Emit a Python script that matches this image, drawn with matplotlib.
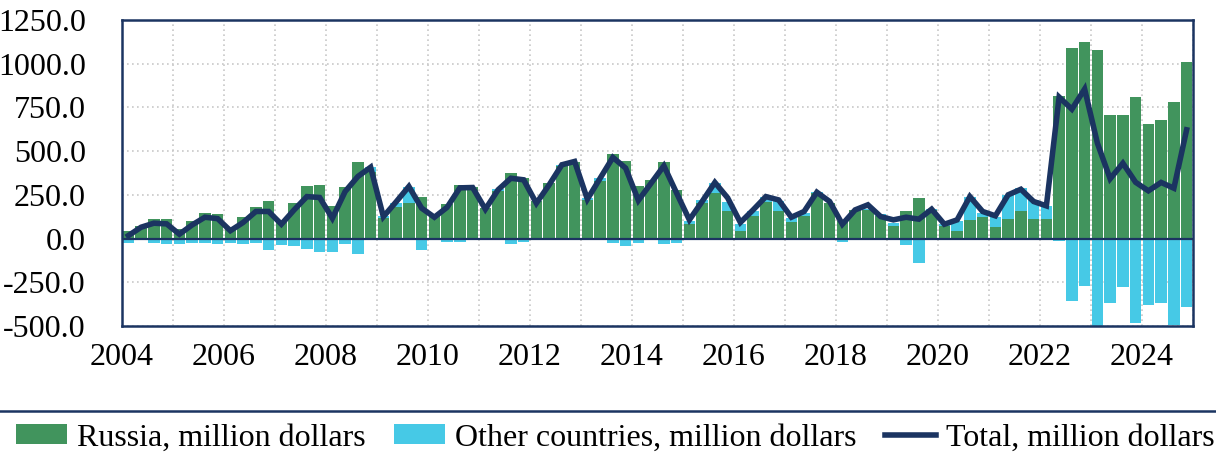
import numpy as np
import matplotlib.pyplot as plt
from matplotlib.lines import Line2D

plt.rcParams['font.family'] = ['Liberation Serif', 'DejaVu Serif']

# Kvartalsdata 2004K1 - 2024K4 (mill. dollar)
start_year = 2004
end_year = 2024

russia = [44, 71, 111, 111, 57, 103, 147, 139, 53, 124, 179, 214,
          100, 206, 298, 307, 187, 296, 437, 378, 120, 183, 206, 238,
          135, 198, 307, 296, 174, 273, 374, 347, 216, 317, 416, 437,
          221, 332, 483, 443, 298, 336, 437, 279, 84, 202, 263, 157,
          46, 130, 210, 160, 97, 130, 263, 206, 103, 164, 165, 130,
          73, 158, 233, 164, 73, 46, 107, 122, 65, 114, 155, 113,
          113, 817, 1088, 1122, 1078, 708, 704, 807, 654, 679, 780, 1007]

other = [-27, -6, -27, -32, -32, -23, -27, -32, -27, -32, -27, -65,
         -34, -42, -59, -78, -74, -31, -90, 30, 10, 20, 88, -63,
         -10, -21, -21, -8, -5, 9, -31, -17, -5, -5, 4, -5,
         10, 13, -23, -42, -23, -5, -31, -27, 19, 19, 54, 55,
         38, 28, 30, 54, 23, 15, 6, -11, -17, -3, 5, 11,
         15, -36, -137, 4, 11, 57, 133, 23, 57, 136, 133, 108,
         74, -13, -357, -271, -504, -366, -275, -485, -380, -366, -494, -393]

total = [17, 65, 88, 84, 25, 78, 122, 114, 45, 92, 155, 155,
         82, 164, 240, 235, 116, 269, 355, 408, 125, 210, 298, 174,
         122, 179, 290, 292, 168, 279, 345, 336, 202, 307, 422, 441,
         225, 345, 464, 403, 218, 317, 416, 260, 107, 212, 321, 233,
         92, 164, 240, 221, 122, 155, 265, 212, 82, 164, 193, 126,
         107, 122, 111, 168, 82, 107, 240, 155, 130, 250, 282, 212,
         187, 809, 740, 855, 546, 342, 431, 322, 273, 321, 288, 622]

y_ticks = [-500, -250, 0, 250, 500, 750, 1000, 1250]

# Farger
GREEN = '#41945D'
CYAN = '#46C9E6'
NAVY = '#1B3461'
FS = 23

russia = np.array(russia, dtype=float)
other = np.array(other, dtype=float)
n = len(russia)
x = np.arange(n) + 0.5

fig = plt.figure(figsize=(12.16, 4.58), dpi=100)
ax = fig.add_axes([122 / 1216, 1 - 326 / 458, (1193 - 122) / 1216, (326 - 20) / 458])

# Stablede søyler: positive "andre" oppå Russland, negative under null
other_bottom = np.where(other > 0, russia, 0)
b1 = ax.bar(x, russia, width=0.92, color=GREEN, zorder=2, label='Russia, million dollars')
b2 = ax.bar(x, other, width=0.92, bottom=other_bottom, color=CYAN, zorder=2,
            label='Other countries, million dollars')
ax.axhline(0, color=NAVY, linewidth=1.6, zorder=3)
l1, = ax.plot(x, total, color=NAVY, linewidth=4.0, zorder=4, solid_joinstyle='miter',
              label='Total, million dollars')

ax.set_xlim(0, n)
ax.set_ylim(-500, 1250)
ax.set_yticks(y_ticks)
ax.set_yticklabels([f'{v:.1f}' for v in y_ticks], fontsize=FS)

years = list(range(start_year, end_year + 2))
ax.set_xticks([4 * i for i in range(len(years))])
ax.set_xticklabels([str(y) if (y - start_year) % 2 == 0 else '' for y in years], fontsize=FS)
ax.tick_params(axis='both', length=0)
ax.tick_params(axis='x', pad=12)
ax.tick_params(axis='y', pad=26)

ax.grid(True, color='#C8C8C8', linestyle=(0, (1, 2)), linewidth=1.2, zorder=0)
ax.set_axisbelow(True)
for s in ax.spines.values():
    s.set_color(NAVY)
    s.set_linewidth(1.8)

# Skillelinje over tegnforklaringen
fig.add_artist(Line2D([0, 1], [1 - 411 / 458, 1 - 411 / 458], color=NAVY, linewidth=1.8,
                      transform=fig.transFigure))

fig.legend(handles=[b1, b2, l1], loc='center', bbox_to_anchor=(0.506, 1 - 438 / 458),
           ncol=3, frameon=False, fontsize=FS, handlelength=1.6, handleheight=0.6,
           handletextpad=0.3, columnspacing=0.9, borderaxespad=0)

plt.savefig('out.png', dpi=100)
